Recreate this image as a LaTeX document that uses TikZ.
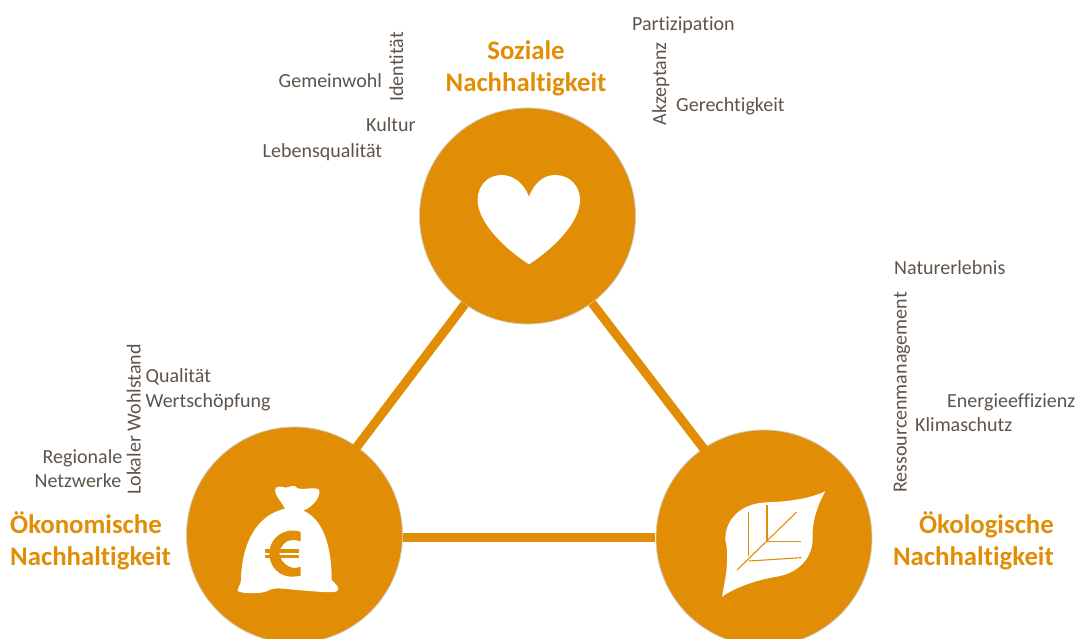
\documentclass[tikz,border=0pt]{standalone}
\usepackage{fontspec}
\setmainfont[Ligatures=NoCommon]{Carlito}
\definecolor{ora}{HTML}{E18E06}
\definecolor{txt}{HTML}{5F5349}
\definecolor{rim}{HTML}{CFC8BC}
\tikzset{
 pillar/.style={circle,fill=ora,draw=rim,line width=0.8pt,minimum size=216pt,inner sep=0pt},
 link/.style={draw=ora,line width=9pt},
 head/.style={text=ora,font=\fontsize{26.8}{32}\selectfont\bfseries,inner sep=0pt,align=center},
 lab/.style={text=txt,font=\fontsize{20}{24}\selectfont,inner sep=0pt,anchor=base west},
 vlab/.style={text=txt,font=\fontsize{20}{24}\selectfont,inner sep=0pt,rotate=90,anchor=base west},
 icon/.style={fill=white,draw=none},
 vein/.style={draw=ora,line width=1.1pt},
}
\begin{document}
\begin{tikzpicture}[x=1pt,y=-1pt]
\useasboundingbox (0,0) rectangle (1077,639);
\begin{scope}
\clip (0,0) rectangle (1077,639);
\node[pillar] (S) at (527.5,216) {};
\node[pillar] (O) at (294.5,535) {};
\node[pillar] (U) at (764,538) {};
\end{scope}
\coordinate (a1) at (465,304); \coordinate (a2) at (356,448);
\coordinate (b1) at (592,303); \coordinate (b2) at (704,449);
\coordinate (c1) at (403,537.5); \coordinate (c2) at (655,537.5);
\draw[link] (a1) -- (a2);
\draw[link] (b1) -- (b2);
\draw[link] (c1) -- (c2);
% heart
\begin{scope}[shift={(400,120)},scale=0.33333]
\fill[icon] (387,230) .. controls (372,190) and (340,165) .. (305,165)
 .. controls (262,165) and (233,198) .. (233,240)
 .. controls (233,310) and (320,390) .. (387,433)
 .. controls (454,390) and (540,310) .. (540,240)
 .. controls (540,198) and (510,165) .. (465,165)
 .. controls (430,165) and (402,190) .. (387,230) -- cycle;
\end{scope}
% bag
\begin{scope}[shift={(180,460)},scale=0.33333]
\fill[icon] (315,146) .. controls (305,125) and (283,105) .. (285,90)
 .. controls (287,78) and (300,78) .. (318,83)
 .. controls (330,80) and (345,72) .. (353,85)
 .. controls (375,90) and (405,80) .. (416,88)
 .. controls (424,100) and (410,135) .. (370,152)
 .. controls (425,175) and (455,250) .. (455,360)
 .. controls (465,370) and (478,380) .. (474,390)
 .. controls (470,402) and (420,395) .. (350,390)
 .. controls (310,386) and (285,382) .. (268,390)
 .. controls (255,402) and (190,402) .. (174,394)
 .. controls (170,385) and (183,375) .. (183,360)
 .. controls (185,250) and (230,165) .. (315,146) -- cycle;
\fill[ora] (362,216) .. controls (352,212) and (340,211) .. (330,212)
 .. controls (295,216) and (268,245) .. (268,280)
 .. controls (268,320) and (298,350) .. (335,350)
 .. controls (345,350) and (355,349) .. (362,347)
 -- (362,320) .. controls (350,325) and (338,325) .. (328,320)
 .. controls (312,313) and (300,298) .. (298,280)
 .. controls (300,258) and (318,240) .. (335,240)
 .. controls (345,240) and (355,241) .. (362,244) -- cycle;
\fill[ora] (256,268) rectangle (358,278);
\fill[ora] (256,285) rectangle (358,295);
\end{scope}
% leaf
\begin{scope}[shift={(650,460)},scale=0.33333]
\fill[icon] (526,94) .. controls (480,115) and (420,125) .. (350,127)
 .. controls (270,130) and (225,180) .. (226,240)
 .. controls (240,300) and (225,360) .. (216,410)
 .. controls (260,380) and (320,360) .. (380,350)
 .. controls (440,340) and (485,300) .. (488,240)
 .. controls (485,190) and (500,140) .. (526,94) -- cycle;
\draw[vein] (261,330) -- (440,156);
\draw[vein] (295,155) -- (295,288);
\draw[vein] (351,135) -- (351,243);
\draw[vein] (351,244) -- (454,244);
\draw[vein] (297,303) -- (454,293);
\end{scope}
% headings
\node[head] (h1) at (526,68) {Soziale\\Nachhaltigkeit};
\node[head,align=left,anchor=west] (h2) at (10,541) {Ökonomische\\Nachhaltigkeit};
\node[head,align=right,anchor=east] (h3) at (1054,541) {Ökologische\\Nachhaltigkeit};
% labels
\node[lab] (t1) at (632,31) {Partizipation};
\node[lab] (t2) at (676,112) {Gerechtigkeit};
\node[vlab] (t3) at (666,125.5) {Akzeptanz};
\node[vlab] (t4) at (403,102) {Identität};
\node[lab] (t5) at (278.5,88) {Gemeinwohl};
\node[lab] (t6) at (366,132) {Kultur};
\node[lab] (t7) at (262.5,158) {Lebensqualität};
\node[lab] (t8) at (894,275) {Naturerlebnis};
\node[vlab] (t9) at (906.5,493) {Ressourcenmanagement};
\node[lab] (t10) at (947,407) {Energieeffizienz};
\node[lab] (t11) at (915,431) {Klimaschutz};
\node[lab] (t12) at (145.5,382) {Qualität};
\node[lab] (t13) at (145.5,407) {Wertschöpfung};
\node[vlab] (t14) at (140.5,495) {Lokaler Wohlstand};
\node[lab] (t15) at (42.5,463) {Regionale};
\node[lab] (t16) at (34.5,487) {Netzwerke};
\end{tikzpicture}
\end{document}
